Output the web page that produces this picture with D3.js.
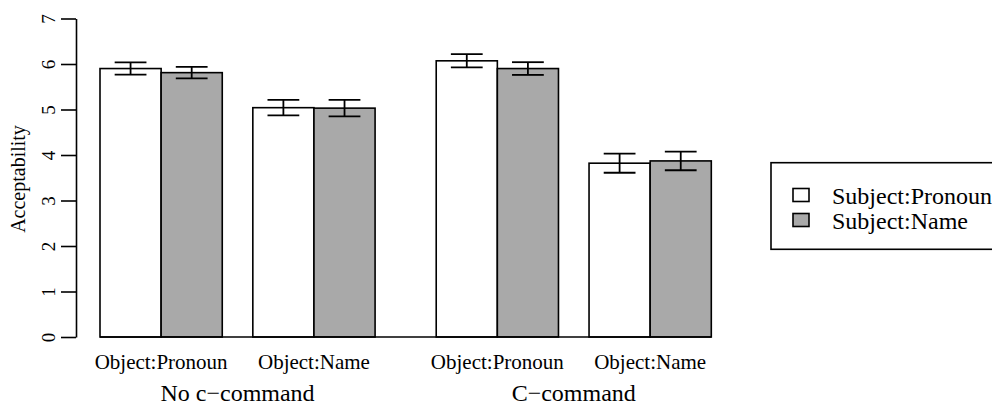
<!DOCTYPE html>
<html>
<head>
<meta charset="utf-8">
<script src="https://cdn.jsdelivr.net/npm/d3@7"></script>
<style>
  body { margin: 0; background: #fff; }
  svg text { font-family: "Liberation Serif", "Times New Roman", Times, serif; fill: #000; }
</style>
</head>
<body>
<svg id="chart" width="992" height="405"></svg>
<script>
// data
const blocks = ["No c\u2212command", "C\u2212command"];
const objects = ["Object:Pronoun", "Object:Name"];
const subjects = ["Subject:Pronoun", "Subject:Name"];
const subjColors = ["#ffffff", "#a9a9a9"];
// one value per block x object cell, in order
const pronounMeans = [5.90, 5.04, 6.07, 3.82];
const nameMeans    = [5.81, 5.03, 5.90, 3.87];
const pronounSE    = [0.135, 0.17, 0.145, 0.21];
const nameSE       = [0.125, 0.18, 0.14, 0.205];
const yTicks = [0, 1, 2, 3, 4, 5, 6, 7];

let svg = d3.select("#chart");

// bars are laid out in bar-width units, like R's barplot
var x = d3.scaleLinear().domain([0, 10]).range([100, 711.3]);
var y = d3.scaleLinear().domain([0, 7]).range([337, 18.5]);

let cells = [];
blocks.forEach((b, bi) => {
    objects.forEach((o, oi) => {
        let p = bi * 2 + oi;
        let start = p * 2.5 + (bi > 0 ? 0.5 : 0);
        cells.push({block: b, object: o, start: start,
            bars: [
                {s: 0, mean: pronounMeans[p], se: pronounSE[p]},
                {s: 1, mean: nameMeans[p], se: nameSE[p]}
            ]});
    });
});

let bars = [];
cells.forEach(c => c.bars.forEach(d => bars.push(Object.assign({x0: c.start + d.s}, d))));

svg.selectAll("rect.bar")
    .data(bars)
    .enter().append("rect")
    .attr("class", "bar")
    .attr("x", d => x(d.x0))
    .attr("width", d => x(d.x0 + 1) - x(d.x0))
    .attr("y", d => y(d.mean))
    .attr("height", d => y(0) - y(d.mean))
    .attr("fill", d => subjColors[d.s])
    .attr("stroke", "#000")
    .attr("stroke-width", 1.6);

// baseline under the bars
svg.append("line")
    .attr("x1", x(0)).attr("x2", x(10))
    .attr("y1", y(0)).attr("y2", y(0))
    .attr("stroke", "#000").attr("stroke-width", 1.6);

// error bars
let eb = svg.selectAll("g.err").data(bars).enter().append("g")
    .attr("stroke", "#000").attr("stroke-width", 1.8);
eb.append("line")
    .attr("x1", d => x(d.x0 + 0.5)).attr("x2", d => x(d.x0 + 0.5))
    .attr("y1", d => y(d.mean + d.se)).attr("y2", d => y(d.mean - d.se));
[1, -1].forEach(sign => {
    eb.append("line")
        .attr("x1", d => x(d.x0 + 0.24)).attr("x2", d => x(d.x0 + 0.76))
        .attr("y1", d => y(d.mean + sign * d.se)).attr("y2", d => y(d.mean + sign * d.se));
});

// y axis
let yAxis = svg.append("g")
    .attr("transform", "translate(76,0)")
    .call(d3.axisLeft(y).tickValues(yTicks).tickFormat(d3.format("d"))
        .tickSize(15).tickSizeOuter(0));
yAxis.select(".domain").attr("stroke-width", 1.6);
yAxis.selectAll(".tick line").attr("stroke-width", 1.6);
yAxis.selectAll(".tick text")
    .attr("transform", "rotate(-90)")
    .attr("x", 0).attr("y", -21).attr("dy", null)
    .attr("text-anchor", "middle")
    .style("font-size", "19px")
    .style("font-family", '"Liberation Serif", serif');

svg.append("text")
    .attr("transform", "translate(25,179) rotate(-90)")
    .attr("text-anchor", "middle")
    .style("font-size", "20px")
    .text("Acceptability");

// category labels
svg.selectAll("text.obj").data(cells).enter().append("text")
    .attr("x", d => x(d.start + 1)).attr("y", 368.5)
    .attr("text-anchor", "middle")
    .style("font-size", "21px")
    .text(d => d.object);

svg.selectAll("text.blk").data(blocks).enter().append("text")
    .attr("x", (d, i) => (x(cells[i * 2].start) + x(cells[i * 2 + 1].start + 2)) / 2)
    .attr("y", 401)
    .attr("text-anchor", "middle")
    .style("font-size", "24px")
    .text(d => d);

// legend
let leg = svg.append("g");
leg.append("rect")
    .attr("x", 771).attr("y", 162.7).attr("width", 260).attr("height", 86.6)
    .attr("fill", "none").attr("stroke", "#000").attr("stroke-width", 1.6);
let li = leg.selectAll("g.item").data(subjects).enter().append("g")
    .attr("transform", (d, i) => "translate(0," + (195 + i * 25) + ")");
li.append("rect")
    .attr("x", 793).attr("y", -6.5).attr("width", 16).attr("height", 13)
    .attr("fill", (d, i) => subjColors[i])
    .attr("stroke", "#000").attr("stroke-width", 1.6);
li.append("text")
    .attr("x", 832).attr("y", 4.5)
    .style("font-size", "24px")
    .attr("dy", "0.2em")
    .text(d => d);
</script>
</body>
</html>
